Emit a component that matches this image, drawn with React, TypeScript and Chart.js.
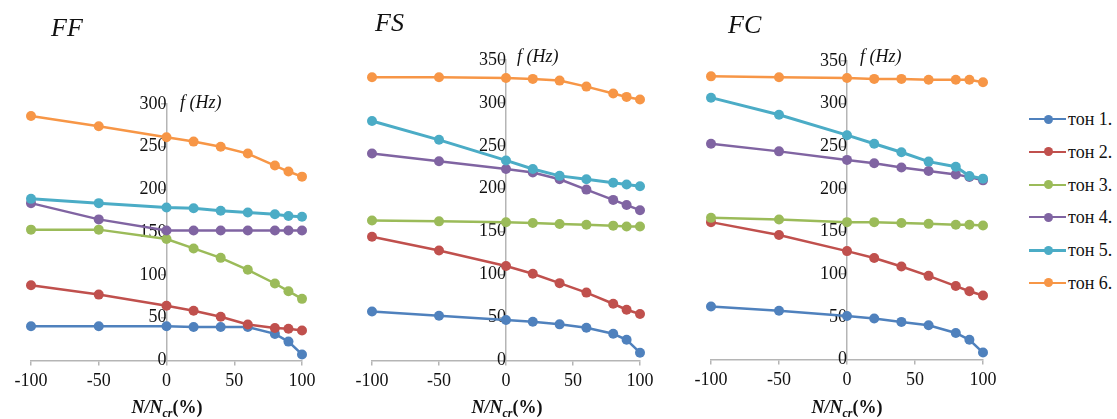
import React, { useEffect, useRef } from "react";
import { Chart, registerables } from "chart.js";

Chart.register(...registerables);

// ---------- data ----------
const xValues = [-100, -50, 0, 20, 40, 60, 80, 90, 100];
const toneNames = ["тон 1.", "тон 2.", "тон 3.", "тон 4.", "тон 5.", "тон 6."];
const toneColors = ["#4F81BD", "#C0504D", "#9BBB59", "#8064A2", "#4BACC6", "#F79646"];

// FF panel
const ffTone1 = [40, 40, 40, 39, 39, 39, 31, 22, 7];
const ffTone2 = [88, 77, 64, 58, 51, 42, 38, 37, 35];
const ffTone3 = [153, 153, 142, 131, 120, 106, 90, 81, 72];
const ffTone4 = [184, 165, 152, 152, 152, 152, 152, 152, 152];
const ffTone5 = [189, 184, 179, 178, 175, 173, 171, 169, 168];
const ffTone6 = [286, 274, 261, 256, 250, 242, 228, 221, 215];

// FS panel
const fsTone1 = [57, 52, 47, 45, 42, 38, 31, 24, 9];
const fsTone2 = [144, 128, 110, 101, 90, 79, 66, 59, 54];
const fsTone3 = [163, 162, 161, 160, 159, 158, 157, 156, 156];
const fsTone4 = [241, 232, 223, 219, 211, 199, 187, 181, 175];
const fsTone5 = [279, 257, 233, 223, 215, 211, 207, 205, 203];
const fsTone6 = [330, 330, 329, 328, 326, 319, 311, 307, 304];

// FC panel
const fcTone1 = [62, 57, 51, 48, 44, 40, 31, 23, 8];
const fcTone2 = [161, 146, 127, 119, 109, 98, 86, 80, 75];
const fcTone3 = [166, 164, 161, 161, 160, 159, 158, 158, 157];
const fcTone4 = [253, 244, 234, 230, 225, 221, 217, 214, 210];
const fcTone5 = [307, 287, 263, 253, 243, 232, 226, 215, 212];
const fcTone6 = [332, 331, 330, 329, 329, 328, 328, 328, 325];

const yMaxFF = 300;
const yMaxFS = 350;
const yMaxFC = 350;

// ---------- styling ----------
const SERIF = "'Liberation Serif', 'Times New Roman', serif";
const AXIS_COLOR = "#b5b5b5";
const TEXT_COLOR = "#111111";

type PanelProps = {
  left: number;
  width: number;
  height: number;
  padding: { left: number; right: number; top: number; bottom: number };
  yMax: number;
  series: number[][];
};

function Panel({ left, width, height, padding, yMax, series }: PanelProps) {
  const ref = useRef<HTMLCanvasElement | null>(null);
  useEffect(() => {
    if (!ref.current) return;
    const datasets = series.map((vals, i) => ({
      label: toneNames[i],
      data: xValues.map((x, j) => ({ x, y: vals[j] })),
      borderColor: toneColors[i],
      backgroundColor: toneColors[i],
      pointBackgroundColor: toneColors[i],
      pointBorderColor: toneColors[i],
      pointRadius: 5,
      pointBorderWidth: 0,
      borderWidth: i === 4 ? 3 : 2.5,
      tension: 0,
      clip: false as any,
      order: 5 - i,
    }));
    const tickFont = { family: SERIF, size: 18 };
    const chart = new Chart(ref.current, {
      type: "line",
      data: { datasets },
      options: {
        animation: false,
        responsive: false,
        events: [],
        layout: { padding },
        plugins: { legend: { display: false }, tooltip: { enabled: false } },
        scales: {
          x: {
            type: "linear",
            min: -100,
            max: 100,
            ticks: { stepSize: 50, font: tickFont, color: TEXT_COLOR, padding: 5, maxRotation: 0 },
            grid: { drawOnChartArea: false, drawTicks: true, tickLength: 5, color: AXIS_COLOR, lineWidth: 1.5 },
            border: { color: AXIS_COLOR, width: 1.5 },
          },
          y: {
            type: "linear",
            position: { x: 0 } as any,
            min: 0,
            max: yMax,
            ticks: { stepSize: 50, font: tickFont, color: TEXT_COLOR, padding: 8 },
            grid: { drawOnChartArea: false, drawTicks: true, tickLength: 5, color: AXIS_COLOR, lineWidth: 1.5 },
            border: { color: AXIS_COLOR, width: 1.5 },
          },
        },
      },
    });
    return () => chart.destroy();
  }, []);
  return (
    <canvas
      ref={ref}
      width={width}
      height={height}
      style={{ position: "absolute", left, top: 0, width, height }}
    />
  );
}

function AxisTitle({ cx, cy }: { cx: number; cy: number }) {
  return (
    <div
      style={{
        position: "absolute",
        left: cx - 60,
        top: cy - 11,
        width: 120,
        textAlign: "center",
        fontFamily: SERIF,
        fontSize: 18,
        fontWeight: "bold",
        lineHeight: "22px",
        color: TEXT_COLOR,
        whiteSpace: "nowrap",
      }}
    >
      <i>N/N</i>
      <sub style={{ fontSize: 12, fontStyle: "italic", verticalAlign: "-4px" }}>cr</sub>(%)
    </div>
  );
}

function YTitle({ x, cy }: { x: number; cy: number }) {
  return (
    <div
      style={{
        position: "absolute",
        left: x,
        top: cy - 11,
        fontFamily: SERIF,
        fontSize: 18,
        fontStyle: "italic",
        lineHeight: "22px",
        color: TEXT_COLOR,
        whiteSpace: "nowrap",
      }}
    >
      f (Hz)
    </div>
  );
}

function PanelTitle({ x, cy, text }: { x: number; cy: number; text: string }) {
  return (
    <div
      style={{
        position: "absolute",
        left: x,
        top: cy - 15,
        fontFamily: SERIF,
        fontSize: 26,
        fontStyle: "italic",
        lineHeight: "30px",
        color: TEXT_COLOR,
      }}
    >
      {text}
    </div>
  );
}

function Legend() {
  return (
    <div style={{ position: "absolute", left: 1029, top: 108 }}>
      {toneNames.map((name, i) => (
        <div key={name} style={{ position: "relative", height: 32.8, width: 90 }}>
          <div
            style={{
              position: "absolute",
              left: 0,
              top: 11 - (i === 4 ? 1.5 : 1),
              width: 37,
              height: i === 4 ? 3 : 2,
              background: toneColors[i],
            }}
          />
          <div
            style={{
              position: "absolute",
              left: 14.5,
              top: 6.5,
              width: 9,
              height: 9,
              borderRadius: "50%",
              background: toneColors[i],
            }}
          />
          <div
            style={{
              position: "absolute",
              left: 39,
              top: 0,
              fontFamily: SERIF,
              fontSize: 18,
              lineHeight: "22px",
              color: TEXT_COLOR,
              whiteSpace: "nowrap",
            }}
          >
            {name}
          </div>
        </div>
      ))}
    </div>
  );
}

export default function App() {
  return (
    <div
      style={{
        position: "fixed",
        left: 0,
        top: 0,
        width: 1117,
        height: 419,
        background: "#ffffff",
        overflow: "hidden",
      }}
    >
      <Panel
        left={0}
        width={340}
        height={419}
        padding={{ left: 31, right: 38, top: 104, bottom: 22 }}
        yMax={yMaxFF}
        series={[ffTone1, ffTone2, ffTone3, ffTone4, ffTone5, ffTone6]}
      />
      <Panel
        left={340}
        width={340}
        height={419}
        padding={{ left: 32, right: 40, top: 60, bottom: 22 }}
        yMax={yMaxFS}
        series={[fsTone1, fsTone2, fsTone3, fsTone4, fsTone5, fsTone6]}
      />
      <Panel
        left={680}
        width={340}
        height={419}
        padding={{ left: 31, right: 37, top: 61, bottom: 23 }}
        yMax={yMaxFC}
        series={[fcTone1, fcTone2, fcTone3, fcTone4, fcTone5, fcTone6]}
      />
      <PanelTitle x={51} cy={28} text="FF" />
      <PanelTitle x={375} cy={23} text="FS" />
      <PanelTitle x={728} cy={25} text="FC" />
      <YTitle x={180} cy={102} />
      <YTitle x={517} cy={56} />
      <YTitle x={860} cy={56} />
      <AxisTitle cx={167} cy={407} />
      <AxisTitle cx={507} cy={407} />
      <AxisTitle cx={847} cy={407} />
      <Legend />
    </div>
  );
}
